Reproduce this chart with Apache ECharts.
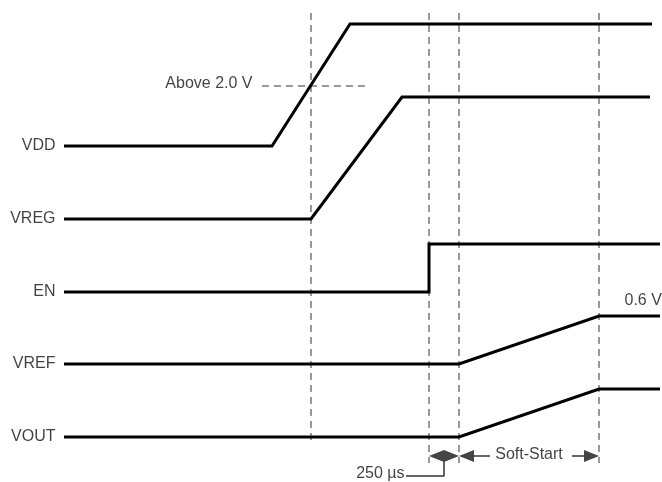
<!DOCTYPE html>
<html><head><meta charset="utf-8">
<script src="https://cdn.jsdelivr.net/npm/echarts@6/dist/echarts.min.js"></script>
<style>html,body{margin:0;padding:0;background:#fff}#c{width:662px;height:482px}</style>
</head><body><div id="c"></div>
<script>
// Signal names
const signalNames = ['VDD', 'VREG', 'EN', 'VREF', 'VOUT'];
// Breakpoint times (horizontal axis units) and levels (vertical axis units, inverted)
const vddTime  = [64, 272, 350, 652];
const vddLevel = [146, 146, 24, 24];
const vregTime  = [64, 311, 402, 650];
const vregLevel = [219, 219, 97, 97];
const enTime  = [64, 429, 429, 660];
const enLevel = [292, 292, 244, 244];
const vrefTime  = [64, 459, 599, 660];
const vrefLevel = [364, 364, 316, 316];
const voutTime  = [64, 459, 599, 660];
const voutLevel = [437, 437, 389, 389];
// Event markers (dashed verticals)
const markerTimes   = [311, 429, 459, 599];
const markerTop     = [13, 13, 13, 13];
const markerBottom  = [445, 463, 463, 463];
// Threshold (Above 2.0 V)
const thresholdTime  = [262, 368];
const thresholdLevel = [86, 86];
// Dimension annotations
const arrowTips = [[429, 456, -1], [459, 456, 1], [459, 456, -1], [599, 456, 1]];
const ssShaftLeft  = [[474, 456], [490, 456]];
const ssShaftRight = [[572, 456], [585, 456]];
const leader250 = [[444, 456], [444, 476], [406, 476]];
// Text annotations
const texts = [
  { v: [262, 84], t: 'Above 2.0 V', pos: 'left', dist: 9 },
  { v: [624, 301], t: '0.6 V', pos: 'right', dist: 0 },
  { v: [529, 455], t: 'Soft-Start', pos: 'inside', dist: 0 },
  { v: [406, 474], t: '250 µs', pos: 'left', dist: 1 }
];

const times = [vddTime, vregTime, enTime, vrefTime, voutTime];
const levels = [vddLevel, vregLevel, enLevel, vrefLevel, voutLevel];
const FONT = { fontFamily: 'Liberation Sans, Arial, sans-serif', fontSize: 16, color: '#111' };

const series = [];
// dashed markers
markerTimes.forEach((t, i) => {
  series.push({ type: 'line', data: [[t, markerTop[i]], [t, markerBottom[i]]], symbol: 'none', silent: true,
    lineStyle: { color: '#333', width: 1, type: [7, 5] }, z: 1 });
});
series.push({ type: 'line', data: thresholdTime.map((t, i) => [t, thresholdLevel[i]]), symbol: 'none',
  lineStyle: { color: '#333', width: 1, type: [7, 5] }, z: 1 });
// signals
signalNames.forEach((n, i) => {
  series.push({ type: 'line', name: n, data: times[i].map((t, j) => [t, levels[i][j]]), symbol: 'none',
    lineStyle: { color: '#000', width: 3, join: 'miter' }, z: 3 });
});
// signal labels
series.push({ type: 'scatter', symbolSize: 1, itemStyle: { color: 'rgba(0,0,0,0)' }, z: 5,
  data: signalNames.map((n, i) => ({ value: [times[i][0], levels[i][0]], name: n })),
  label: { show: true, position: 'left', distance: 8, formatter: p => p.name, ...FONT } });
// text annotations
series.push({ type: 'scatter', symbolSize: 1, itemStyle: { color: 'rgba(0,0,0,0)' }, z: 5,
  data: texts.map(o => ({ value: o.v, name: o.t, label: { position: o.pos, distance: o.dist } })),
  label: { show: true, formatter: p => p.name, ...FONT } });
// shafts
[ssShaftLeft, ssShaftRight, leader250].forEach(d => {
  series.push({ type: 'line', data: d, symbol: 'none', lineStyle: { color: '#333', width: 1.5 }, z: 4 });
});
// arrowheads
series.push({ type: 'custom', data: arrowTips, z: 6,
  renderItem(params, api) {
    const tip = api.coord([api.value(0), api.value(1)]);
    const d = api.value(2), L = 15, H = 6;
    return { type: 'polygon', shape: { points: [[tip[0], tip[1]], [tip[0] - d * L, tip[1] - H], [tip[0] - d * L, tip[1] + H]] },
      style: { fill: '#444' } };
  } });

const chart = echarts.init(document.getElementById('c'), null, { renderer: 'canvas' });
chart.setOption({
  animation: false,
  backgroundColor: '#fff',
  grid: { left: 0, right: 0, top: 0, bottom: 0 },
  xAxis: { type: 'value', min: 0, max: 662, show: false },
  yAxis: { type: 'value', min: 0, max: 482, inverse: true, show: false },
  series
});
</script></body></html>
